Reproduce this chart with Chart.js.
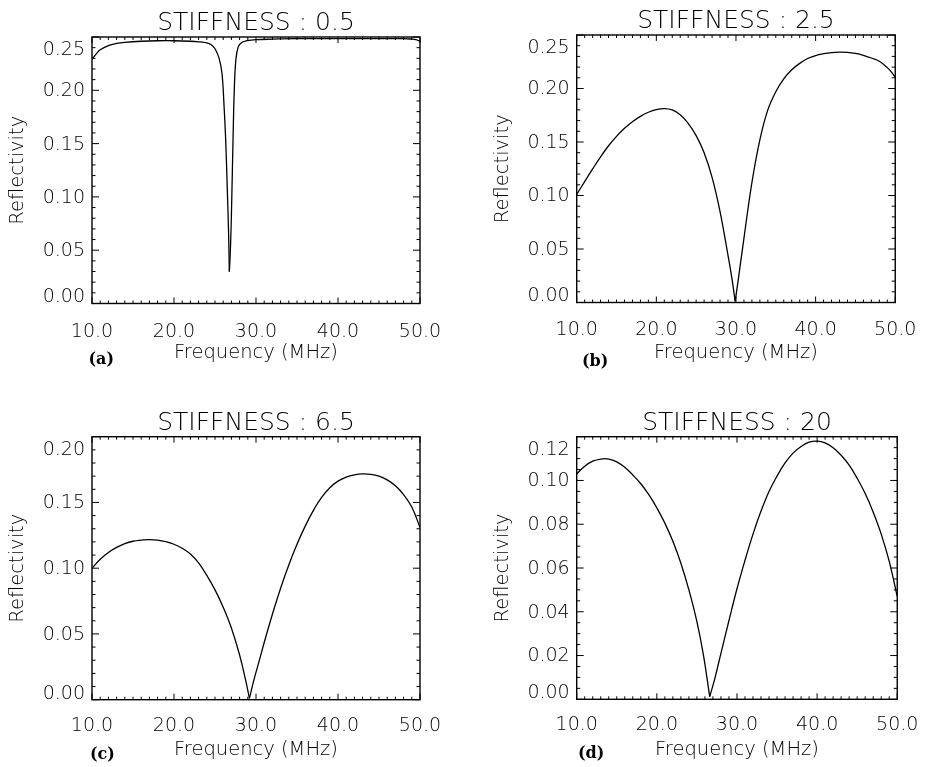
<!DOCTYPE html>
<html>
<head>
<meta charset="utf-8">
<script src="https://cdn.jsdelivr.net/npm/chart.js@4.4.0/dist/chart.umd.min.js"></script>
<style>
  html, body { margin: 0; padding: 0; background: #fff; }
  #wrap { position: relative; width: 933px; height: 767px; }
  #wrap canvas { position: absolute; }
</style>
</head>
<body>
<div id="wrap">
  <canvas id="chartA" width="466" height="383" style="left:0;top:0"></canvas>
  <canvas id="chartB" width="467" height="383" style="left:466px;top:0"></canvas>
  <canvas id="chartC" width="466" height="384" style="left:0;top:383px"></canvas>
  <canvas id="chartD" width="467" height="384" style="left:466px;top:383px"></canvas>
</div>
<script>
// reflectivity vs frequency (MHz)
var freqA = [10, 10.5, 11, 12, 13, 14, 16, 18, 20, 22, 23, 24, 24.5, 25, 25.5, 25.85, 26.1, 26.3, 26.5, 26.65,
             26.75, 26.85, 26.95, 27.05, 27.2, 27.35, 27.55, 27.85, 28.3, 28.9, 30, 32, 35, 40, 45, 48, 49, 49.5, 50];
var reflA = [0.229, 0.234, 0.238, 0.242, 0.244, 0.245, 0.246, 0.2465, 0.2465, 0.246, 0.2455, 0.2445, 0.243, 0.239, 0.230, 0.216, 0.186, 0.154, 0.107, 0.068,
             0.030, 0.045, 0.068, 0.100, 0.154, 0.200, 0.229, 0.241, 0.245, 0.2465, 0.2475, 0.248, 0.2485, 0.2485, 0.2485, 0.2485, 0.248, 0.2475, 0.246];

var freqB = [10, 11, 12, 13, 14, 15, 16, 17, 18, 19, 20, 21, 22, 23, 24, 25, 26, 27, 28, 29, 29.5, 29.9, 30.3,
             31, 32, 33, 34, 35, 36, 37, 38, 39, 40, 41, 42, 43, 44, 45, 46, 47, 48, 49, 49.5, 50];
var reflB = [0.101, 0.113, 0.1248, 0.1362, 0.1465, 0.1553, 0.1628, 0.169, 0.174, 0.1778, 0.1803, 0.1812, 0.180, 0.1755, 0.1675, 0.156, 0.140, 0.117, 0.085, 0.044, 0.022, 0.001, 0.022,
             0.060, 0.112, 0.152, 0.180, 0.197, 0.209, 0.2175, 0.2235, 0.228, 0.2308, 0.2325, 0.2336, 0.234, 0.2338, 0.2328, 0.231, 0.2285, 0.2255, 0.2195, 0.2155, 0.2105];

var freqC = [10, 11, 12, 13, 14, 15, 16, 17, 18, 19, 20, 21, 22, 23, 24, 25, 26, 27, 28, 28.7, 29.2, 29.7, 30.5,
             31, 32, 33, 34, 35, 36, 37, 38, 39, 40, 41, 42, 43, 44, 45, 46, 47, 48, 49, 50];
var reflC = [0.100, 0.1068, 0.112, 0.1158, 0.1187, 0.1205, 0.1213, 0.1218, 0.1214, 0.1202, 0.1182, 0.1152, 0.1108, 0.104, 0.0945, 0.0835, 0.0703, 0.0545, 0.034, 0.0158, 0.001, 0.014, 0.032,
             0.0435, 0.065, 0.0848, 0.1025, 0.1182, 0.132, 0.144, 0.1538, 0.1612, 0.1662, 0.1693, 0.171, 0.1717, 0.1714, 0.170, 0.1672, 0.1627, 0.156, 0.1465, 0.131];

var freqD = [10, 11, 12, 13, 14, 15, 16, 17, 18, 19, 20, 21, 22, 23, 24, 25, 25.8, 26.6, 27.2, 28, 29, 30,
             31, 32, 33, 34, 35, 36, 37, 38, 39, 40, 41, 42, 43, 44, 45, 46, 47, 48, 49, 50];
var reflD = [0.103, 0.1065, 0.1088, 0.1098, 0.1098, 0.1085, 0.106, 0.1025, 0.0985, 0.0935, 0.0875, 0.0805, 0.0722, 0.0622, 0.050, 0.0355, 0.0205, 0.0012, 0.009, 0.021, 0.036, 0.0505,
             0.0635, 0.0755, 0.086, 0.095, 0.102, 0.108, 0.1125, 0.1155, 0.1175, 0.118, 0.1172, 0.115, 0.1115, 0.107, 0.101, 0.094, 0.0855, 0.0755, 0.063, 0.047];

var titles = ['STIFFNESS : 0.5', 'STIFFNESS : 2.5', 'STIFFNESS : 6.5', 'STIFFNESS : 20'];
var tags = ['(a)', '(b)', '(c)', '(d)'];
var yMax = [0.25, 0.25, 0.20, 0.12];
var yMajor = [0.05, 0.05, 0.05, 0.02];
var yMinor = [0.01, 0.01, 0.01, 0.005];
var xMin = 10, xMax = 50, xMajor = 10, xMinor = 1;

// plot box of each panel inside its canvas
var boxes = [
  { left: 92,    top: 37,   right: 420,   bottom: 303.5, w: 466, h: 383, tagX: 88.5, tagY: 364,   xGap: 28.5, tGap: 49.5 },
  { left: 110.7, top: 35,   right: 438.3, bottom: 302.5, w: 467, h: 383, tagX: 116,  tagY: 366,   xGap: 28,   tGap: 50.5 },
  { left: 92,    top: 53.7, right: 420,   bottom: 316.7, w: 466, h: 384, tagX: 90,   tagY: 375.5, xGap: 26.5, tGap: 50.5 },
  { left: 110.7, top: 53.7, right: 438.3, bottom: 316.3, w: 467, h: 384, tagX: 112,  tagY: 374.5, xGap: 26,   tGap: 50.5 }
];

var FONT = '"DejaVu Sans", sans-serif';
var WEIGHT = '200';
var Y_W = 92, X_H = 64;

// IDL-like frame: box, inward ticks on four sides, y labels, title, panel tag
var idlFrame = {
  id: 'idlFrame',
  afterDraw: function (chart, args, o) {
    var ctx = chart.ctx, a = chart.chartArea;
    var xs = chart.scales.x, ys = chart.scales.y;
    ctx.save();
    ctx.strokeStyle = '#000';
    ctx.fillStyle = '#000';
    ctx.lineWidth = 1.4;
    ctx.strokeRect(a.left, a.top, a.right - a.left, a.bottom - a.top);

    ctx.lineWidth = 1;
    ctx.beginPath();
    var n = Math.round((xMax - xMin) / xMinor), i, v, p, len;
    for (i = 0; i <= n; i++) {
      v = xMin + i * xMinor;
      p = xs.getPixelForValue(v);
      len = (i % Math.round(xMajor / xMinor) === 0) ? 6 : 3;
      ctx.moveTo(p, a.bottom); ctx.lineTo(p, a.bottom - len);
      ctx.moveTo(p, a.top); ctx.lineTo(p, a.top + len);
    }
    n = Math.round(o.yMax / o.yMinor);
    var per = Math.round(o.yMajor / o.yMinor);
    for (i = 0; i <= n; i++) {
      v = i * o.yMinor;
      p = ys.getPixelForValue(v);
      len = (i % per === 0) ? 7 : 3.5;
      ctx.moveTo(a.left, p); ctx.lineTo(a.left + len, p);
      ctx.moveTo(a.right, p); ctx.lineTo(a.right - len, p);
    }
    ctx.stroke();

    // y tick labels; the end labels sit inside the box like the original
    ctx.font = WEIGHT + ' 19px ' + FONT;
    ctx.textAlign = 'right';
    ctx.textBaseline = 'middle';
    var t = ys.ticks;
    for (i = 0; i < t.length; i++) {
      var shift = 1;
      if (i === 0) shift = -6;
      if (i === t.length - 1) shift = 13;
      ctx.fillText(t[i].value.toFixed(2), a.left - 7, ys.getPixelForValue(t[i].value) + shift);
    }

    ctx.font = WEIGHT + ' 25px ' + FONT;
    ctx.textAlign = 'center';
    ctx.textBaseline = 'alphabetic';
    ctx.fillText(o.title, (a.left + a.right) / 2, a.top - 7);

    ctx.font = 'bold 16px "DejaVu Serif", serif';
    ctx.textAlign = 'left';
    ctx.fillText(o.tag, o.tagX, o.tagY);
    ctx.restore();
  }
};

function makeChart(id, k, freq, refl) {
  var b = boxes[k];
  var pts = freq.map(function (f, i) { return { x: f, y: refl[i] }; });
  // split at the minimum so the notch stays sharp
  var m = 0;
  refl.forEach(function (r, i) { if (r < refl[m]) m = i; });
  var line = { borderColor: '#000', borderWidth: 1.3, pointRadius: 0, tension: 0.4, fill: false };
  var left = Object.assign({ data: pts.slice(0, m + 1) }, line);
  var right = Object.assign({ data: pts.slice(m) }, line);
  var tf = { family: FONT, size: 19, weight: WEIGHT, lineHeight: 1.2 };
  var af = { family: FONT, size: 19.5, weight: WEIGHT, lineHeight: 1.2 };
  return new Chart(document.getElementById(id), {
    type: 'line',
    data: { datasets: [left, right] },
    options: {
      responsive: false,
      animation: false,
      layout: {
        padding: { left: b.left - Y_W, top: b.top, right: b.w - b.right, bottom: b.h - b.bottom - X_H }
      },
      plugins: {
        legend: { display: false },
        tooltip: { enabled: false },
        idlFrame: {
          title: titles[k], tag: tags[k], tagX: b.tagX, tagY: b.tagY,
          yMax: yMax[k], yMajor: yMajor[k], yMinor: yMinor[k]
        }
      },
      scales: {
        x: {
          type: 'linear', min: xMin, max: xMax,
          grid: { display: false, drawTicks: false },
          border: { display: false },
          ticks: {
            stepSize: xMajor, maxRotation: 0, autoSkip: false,
            padding: b.xGap - 11.4, color: '#000', font: tf,
            callback: function (v) { return v.toFixed(1); }
          },
          title: {
            display: true, text: 'Frequency (MHz)', color: '#000', font: af,
            padding: { top: 0, bottom: X_H - 11.7 - b.tGap }
          },
          afterFit: function (s) { s.height = X_H; }
        },
        y: {
          min: 0, max: yMax[k],
          grid: { display: false, drawTicks: false },
          border: { display: false },
          ticks: { stepSize: yMajor[k], display: false },
          title: {
            display: true, text: 'Reflectivity', color: '#000', font: af,
            padding: { top: 6.3, bottom: 0 }
          },
          afterFit: function (s) { s.width = Y_W; }
        }
      }
    },
    plugins: [idlFrame]
  });
}

makeChart('chartA', 0, freqA, reflA);
makeChart('chartB', 1, freqB, reflB);
makeChart('chartC', 2, freqC, reflC);
makeChart('chartD', 3, freqD, reflD);
</script>
</body>
</html>
